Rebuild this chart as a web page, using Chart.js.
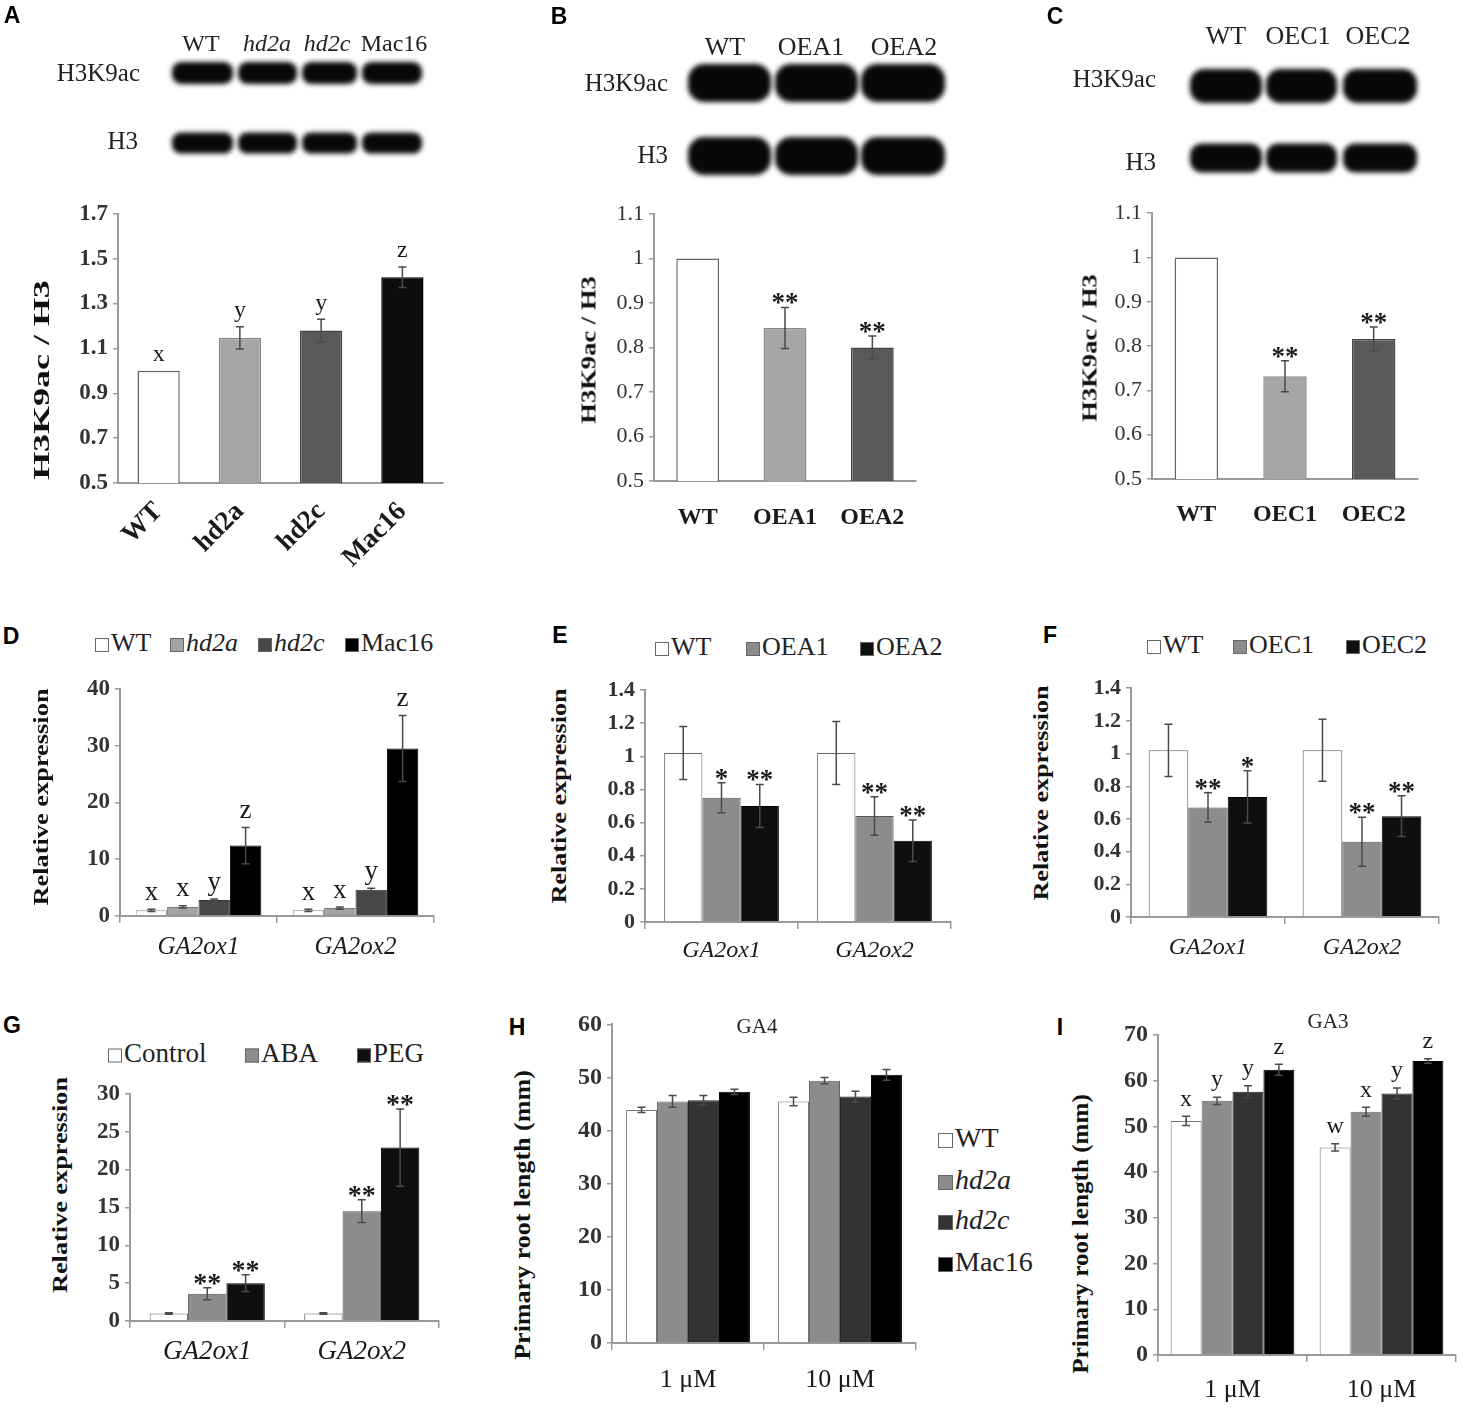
<!DOCTYPE html>
<html>
<head>
<meta charset="utf-8">
<script src="https://cdn.jsdelivr.net/npm/chart.js@4.4.0/dist/chart.umd.min.js"></script>
<style>
body { margin: 0; background: #fff; }
#page { position: relative; width: 1476px; height: 1411px; overflow: hidden; font-family: 'Liberation Serif', 'Times New Roman', serif; color: #222; background: #fff; }
canvas { position: absolute; }
.t { position: absolute; white-space: nowrap; line-height: 1; }
.letter { font-family: 'Liberation Sans', Arial, sans-serif; font-weight: bold; font-size: 23px; color: #000; }
.ytitle { font-weight: bold; color: #111; }
.sq { display: inline-block; width: 14px; height: 14px; border: 1px solid #666; margin-right: 2px; vertical-align: -1px; box-sizing: border-box; }
</style>
</head>
<body>
<div id="page"></div>
<script>
// ---- data ----
// A: H3K9ac / H3 ratio
const aLines = ['WT', 'hd2a', 'hd2c', 'Mac16'];
const aRatio = [1.0, 1.147, 1.18, 1.417];
const aErr = [0, 0.05, 0.05, 0.046];
const aSig = ['x', 'y', 'y', 'z'];
const aYTicks = [0.5, 0.7, 0.9, 1.1, 1.3, 1.5, 1.7];

// B
const bLines = ['WT', 'OEA1', 'OEA2'];
const bRatio = [1.0, 0.844, 0.80];
const bErr = [0, 0.046, 0.026];
const bSig = ['', '**', '**'];

// C
const cLines = ['WT', 'OEC1', 'OEC2'];
const cRatio = [1.0, 0.732, 0.816];
const cErr = [0, 0.035, 0.027];
const cSig = ['', '**', '**'];
const bcYTicks = [0.5, 0.6, 0.7, 0.8, 0.9, 1, 1.1];

// D: relative expression in mutants
const genes = ['GA2ox1', 'GA2ox2'];
const dLines = ['WT', 'hd2a', 'hd2c', 'Mac16'];
const dExpr = [[1.0, 1.0], [1.6, 1.4], [2.8, 4.6], [12.4, 29.5]];
const dErr = [[0.2, 0.2], [0.2, 0.2], [0.2, 0.3], [3.2, 5.8]];
const dSig = [['x', 'x'], ['x', 'x'], ['y', 'y'], ['z', 'z']];
const dYTicks = [0, 10, 20, 30, 40];

// E: OEA lines
const eLines = ['WT', 'OEA1', 'OEA2'];
const eExpr = [[1.02, 1.02], [0.75, 0.64], [0.70, 0.49]];
const eErr = [[0.16, 0.19], [0.09, 0.116], [0.13, 0.125]];
const eSig = [['', ''], ['*', '**'], ['**', '**']];

// F: OEC lines
const fLines = ['WT', 'OEC1', 'OEC2'];
const fExpr = [[1.02, 1.02], [0.67, 0.46], [0.735, 0.617]];
const fErr = [[0.16, 0.19], [0.09, 0.15], [0.16, 0.125]];
const fSig = [['', ''], ['**', '**'], ['*', '**']];
const efYTicks = [0, 0.2, 0.4, 0.6, 0.8, 1, 1.2, 1.4];

// G: treatments
const gTreat = ['Control', 'ABA', 'PEG'];
const gExpr = [[1.0, 1.0], [3.6, 14.5], [5.0, 22.9]];
const gErr = [[0.1, 0.1], [0.8, 1.5], [1.1, 5.1]];
const gSig = [['', ''], ['**', '**'], ['**', '**']];
const gYTicks = [0, 5, 10, 15, 20, 25, 30];

// H / I: primary root length
const doses = ['1 μM', '10 μM'];
const rootLines = ['WT', 'hd2a', 'hd2c', 'Mac16'];
const hRoot = [[43.9, 45.5], [45.5, 49.4], [45.7, 46.4], [47.3, 50.5]];
const hErr = [[0.5, 0.8], [1.1, 0.6], [0.9, 1.0], [0.5, 1.0]];
const hYTicks = [0, 10, 20, 30, 40, 50, 60];
const iRoot = [[51.2, 45.4], [55.6, 53.2], [57.6, 57.2], [62.4, 64.3]];
const iErr = [[1.0, 0.8], [0.8, 1.0], [1.3, 1.2], [1.2, 0.5]];
const iSig = [['x', 'w'], ['y', 'x'], ['y', 'y'], ['z', 'z']];
const iYTicks = [0, 10, 20, 30, 40, 50, 60, 70];

// ---- styles ----
const fillA = ['#ffffff', '#a6a6a6', '#595959', '#0d0d0d'];
const edgeA = ['#666', '#888', '#444', '#000'];
const fillD = ['#ffffff', '#a3a3a3', '#474747', '#000000'];
const edgeD = ['#888', '#777', '#333', '#000'];
const fillE = ['#ffffff', '#8c8c8c', '#0f0f0f'];
const edgeE = ['#666', '#555', '#000'];
const fillH = ['#ffffff', '#8c8c8c', '#333333', '#000000'];
const edgeH = ['#777', '#666', '#222', '#000'];
const italicNames = ['hd2a', 'hd2c'];

Chart.defaults.font.family = "'Liberation Serif', 'Times New Roman', serif";
Chart.defaults.color = '#333';

const page = document.getElementById('page');

function addText(html, x, y, css, cls) {
  const d = document.createElement('div');
  d.className = 't' + (cls ? ' ' + cls : '');
  d.innerHTML = html;
  d.style.left = x + 'px';
  d.style.top = y + 'px';
  d.style.transform = 'translate(-50%,-50%)';
  Object.assign(d.style, css || {});
  page.appendChild(d);
  return d;
}

// rotated axis title, stretched along its length to the measured span
function yTitle(txt, x, y, size, len) {
  const d = addText(txt, x, y, { fontSize: size + 'px' }, 'ytitle');
  const k = len / d.offsetWidth;
  d.style.transform = 'translate(-50%,-50%) rotate(-90deg) scaleX(' + k.toFixed(3) + ')';
}

function nameHtml(n) {
  return italicNames.includes(n) ? '<i>' + n + '</i>' : n;
}

function legendItems(xs, y, names, fills, size) {
  names.forEach((n, i) => {
    addText('<span class="sq" style="background:' + fills[i] + '"></span>' + nameHtml(n), xs[i], y,
      { fontSize: size + 'px', transform: 'translateY(-50%)' });
  });
}

// error bars and significance marks drawn from the bar elements / y scale
const errorBars = {
  id: 'errorBars',
  afterDatasetsDraw(chart, args, opts) {
    const ctx = chart.ctx;
    const y = chart.scales.y;
    chart.data.datasets.forEach((ds, i) => {
      chart.getDatasetMeta(i).data.forEach((bar, j) => {
        const v = ds.data[j];
        const e = opts.errors[i][j];
        const top = y.getPixelForValue(v + e);
        ctx.save();
        if (e > 0) {
          const bot = y.getPixelForValue(v - e);
          ctx.strokeStyle = '#4a4a4a';
          ctx.lineWidth = 1.5;
          ctx.beginPath();
          ctx.moveTo(bar.x, top); ctx.lineTo(bar.x, bot);
          ctx.moveTo(bar.x - 4, top); ctx.lineTo(bar.x + 4, top);
          ctx.moveTo(bar.x - 4, bot); ctx.lineTo(bar.x + 4, bot);
          ctx.stroke();
        }
        const m = opts.marks ? opts.marks[i][j] : '';
        if (m) {
          ctx.fillStyle = '#1a1a1a';
          ctx.textAlign = 'center';
          if (m.indexOf('*') >= 0) {
            ctx.font = opts.starFont;
            ctx.textBaseline = 'alphabetic';
            ctx.fillText(m, bar.x, top + 4);
          } else {
            ctx.font = opts.font;
            ctx.textBaseline = 'bottom';
            ctx.fillText(m, bar.x, top - opts.gap);
          }
        }
        ctx.restore();
      });
    });
  }
};

function barChart(o) {
  const [bl, bt, br, bb] = o.box;
  const [pl, pt, pr, pb] = o.plot;
  const cv = document.createElement('canvas');
  cv.width = br - bl;
  cv.height = bb - bt;
  cv.style.left = bl + 'px';
  cv.style.top = bt + 'px';
  page.appendChild(cv);
  const yt = o.yTicks;
  return new Chart(cv, {
    type: 'bar',
    data: { labels: o.labels, datasets: o.datasets },
    options: {
      responsive: false,
      animation: false,
      layout: { padding: { left: 0, top: pt - bt, right: br - pr, bottom: 0 } },
      plugins: {
        legend: { display: false },
        tooltip: { enabled: false },
        errorBars: { errors: o.errors, marks: o.marks, font: o.markFont, starFont: o.starFont || 'bold 27px Liberation Serif', gap: o.gap || 4 }
      },
      scales: {
        x: {
          offset: true,
          grid: { display: !!o.xTicks, offset: true, drawOnChartArea: false, drawTicks: true, tickLength: 7, color: '#999', lineWidth: 1.5 },
          border: { display: true, color: '#999', width: 2 },
          ticks: { font: o.xFont, color: '#1a1a1a', padding: o.xPad, minRotation: o.xRot || 0, maxRotation: o.xRot || 0, autoSkip: false },
          afterFit: s => { s.height = bb - pb; }
        },
        y: {
          min: yt[0],
          max: yt[yt.length - 1],
          afterBuildTicks: s => { s.ticks = yt.map(v => ({ value: v })); },
          grid: { drawOnChartArea: false, drawTicks: true, tickLength: 5, color: '#999', lineWidth: 1.5 },
          border: { color: '#999', width: 2 },
          ticks: { font: o.yFont, color: '#333', padding: 5, callback: v => String(v) },
          afterFit: s => { s.width = pl - bl; }
        }
      }
    },
    plugins: [errorBars]
  });
}

function singleSet(values, fills, edges, pct) {
  return [{ data: values, backgroundColor: fills, borderColor: edges, borderWidth: 1.5, barPercentage: pct, categoryPercentage: 1 }];
}

function groupSets(names, values, fills, edges, pct) {
  return names.map((n, i) => ({
    label: n, data: values[i], backgroundColor: fills[i], borderColor: edges[i],
    borderWidth: 1, barPercentage: 1, categoryPercentage: pct
  }));
}

// ---- western blot strips (picture, not data) ----
const blotLayout = [
  { lanes: [[172, 233], [238, 297], [302, 357], [362, 422]], rows: [[73, 22], [143, 21]] },
  { lanes: [[688, 771], [775, 858], [861, 945]], rows: [[83, 38], [156, 38]] },
  { lanes: [[1190, 1262], [1266, 1337], [1343, 1417]], rows: [[86, 34], [158, 29]] }
];
(function drawBlots() {
  const cv = document.createElement('canvas');
  cv.width = 1476; cv.height = 200;
  cv.style.left = '0px'; cv.style.top = '0px';
  page.appendChild(cv);
  const ctx = cv.getContext('2d');
  blotLayout.forEach(b => {
    b.rows.forEach(([yc, h]) => {
      b.lanes.forEach(([x0, x1]) => {
        ctx.save();
        ctx.filter = 'blur(2.5px)';
        ctx.fillStyle = '#080808';
        ctx.beginPath();
        ctx.roundRect(x0, yc - h / 2, x1 - x0, h, h / 2.4);
        ctx.fill();
        ctx.restore();
      });
    });
  });
})();

// blot labels
[[201, aLines[0]], [267, aLines[1]], [327, aLines[2]], [394, aLines[3]]].forEach(([x, n]) => addText(nameHtml(n), x, 43, { fontSize: '24px' }));
[[725, bLines[0]], [811, bLines[1]], [904, bLines[2]]].forEach(([x, n]) => addText(n, x, 47, { fontSize: '26px' }));
[[1226, cLines[0]], [1298, cLines[1]], [1378, cLines[2]]].forEach(([x, n]) => addText(n, x, 36, { fontSize: '26px' }));
const rowFont = { fontSize: '25px', transform: 'translate(-100%,-50%)' };
addText('H3K9ac', 140, 72, rowFont);
addText('H3', 138, 140, rowFont);
addText('H3K9ac', 668, 82, rowFont);
addText('H3', 668, 154, rowFont);
addText('H3K9ac', 1156, 78, rowFont);
addText('H3', 1156, 161, rowFont);

// panel letters
[['A', 12, 15], ['B', 559, 16], ['C', 1055, 16], ['D', 11, 636], ['E', 560, 635], ['F', 1050, 635],
 ['G', 12, 1025], ['H', 517, 1027], ['I', 1060, 1027]].forEach(([l, x, y]) => addText(l, x, y, {}, 'letter'));

// ---- charts ----
barChart({
  box: [45, 195, 458, 595], plot: [118, 213, 443, 483],
  labels: aLines, datasets: singleSet(aRatio, fillA, edgeA, 0.52),
  yTicks: aYTicks, yFont: { size: 23, weight: 'bold' },
  xFont: { size: 27, weight: 'bold' }, xRot: 45, xPad: 6,
  errors: [aErr], marks: [aSig], markFont: '24px Liberation Serif', gap: 4
});
yTitle('H3K9ac / H3', 41, 380, 23, 200);

barChart({
  box: [600, 195, 935, 545], plot: [654, 214, 916, 481],
  labels: bLines, datasets: singleSet(bRatio, fillA, edgeA, 0.49),
  yTicks: bcYTicks, yFont: { size: 22 },
  xFont: { size: 24, weight: 'bold' }, xPad: 15,
  errors: [bErr], marks: [bSig]
});
yTitle('H3K9ac / H3', 589, 350, 21, 148);

barChart({
  box: [1100, 195, 1440, 545], plot: [1152, 211, 1418, 479],
  labels: cLines, datasets: singleSet(cRatio, fillA, edgeA, 0.49),
  yTicks: bcYTicks, yFont: { size: 22 },
  xFont: { size: 24, weight: 'bold' }, xPad: 14,
  errors: [cErr], marks: [cSig]
});
yTitle('H3K9ac / H3', 1090, 348, 21, 148);

barChart({
  box: [65, 670, 450, 975], plot: [120, 685, 434, 916],
  labels: genes, datasets: groupSets(dLines, dExpr, fillD, edgeD, 0.8),
  yTicks: dYTicks, yFont: { size: 23, weight: 'bold' }, xTicks: true,
  xFont: { size: 25, style: 'italic' }, xPad: 9,
  errors: dErr, marks: dSig, markFont: '27px Liberation Serif', gap: 3
});
yTitle('Relative expression', 41, 797, 22, 217);
legendItems([95, 170, 258, 345], 643, dLines, fillD, 26);

barChart({
  box: [595, 670, 965, 975], plot: [645, 690, 951, 922],
  labels: genes, datasets: groupSets(eLines, eExpr, fillE, edgeE, 0.75),
  yTicks: efYTicks, yFont: { size: 22, weight: 'bold' }, xTicks: true,
  xFont: { size: 24, style: 'italic' }, xPad: 7,
  errors: eErr, marks: eSig
});
yTitle('Relative expression', 559, 796, 22, 215);
legendItems([655, 746, 860], 647, eLines, fillE, 26);

barChart({
  box: [1080, 670, 1460, 975], plot: [1131, 687, 1439, 917],
  labels: genes, datasets: groupSets(fLines, fExpr, fillE, edgeE, 0.77),
  yTicks: efYTicks, yFont: { size: 22, weight: 'bold' }, xTicks: true,
  xFont: { size: 24, style: 'italic' }, xPad: 9,
  errors: fErr, marks: fSig
});
yTitle('Relative expression', 1041, 793, 22, 215);
legendItems([1147, 1233, 1346], 645, fLines, fillE, 26);

barChart({
  box: [75, 1075, 455, 1400], plot: [130, 1091, 439, 1321],
  labels: genes, datasets: groupSets(gTreat, gExpr, fillE, edgeE, 0.745),
  yTicks: gYTicks, yFont: { size: 23, weight: 'bold' }, xTicks: true,
  xFont: { size: 27, style: 'italic' }, xPad: 8,
  errors: gErr, marks: gSig, starFont: 'bold 28px Liberation Serif'
});
yTitle('Relative expression', 60, 1185, 22, 216);
legendItems([108, 245, 357], 1053, gTreat, fillE, 27);

barChart({
  box: [555, 1005, 930, 1410], plot: [612, 1023, 916, 1343],
  labels: doses, datasets: groupSets(rootLines, hRoot, fillH, edgeH, 0.815),
  yTicks: hYTicks, yFont: { size: 24, weight: 'bold' }, xTicks: true,
  xFont: { size: 26 }, xPad: 15,
  errors: hErr
});
yTitle('Primary root length (mm)', 522, 1215, 23, 290);
addText('GA4', 757, 1026, { fontSize: '21px' });

barChart({
  box: [1100, 1015, 1470, 1410], plot: [1158, 1035, 1456, 1355],
  labels: doses, datasets: groupSets(rootLines, iRoot, fillH, edgeH, 0.83),
  yTicks: iYTicks, yFont: { size: 24, weight: 'bold' }, xTicks: true,
  xFont: { size: 26 }, xPad: 13,
  errors: iErr, marks: iSig, markFont: '24px Liberation Serif', gap: 5
});
yTitle('Primary root length (mm)', 1080, 1234, 23, 280);
addText('GA3', 1328, 1021, { fontSize: '21px' });

// vertical legend between H and I
const rootLegendY = [1138, 1180, 1220, 1262];
rootLines.forEach((n, i) => {
  addText('<span class="sq" style="width:15px;height:15px;background:' + fillH[i] + '"></span>' + nameHtml(n),
    938, rootLegendY[i], { fontSize: '28px', transform: 'translateY(-50%)' });
});
</script>
</body>
</html>
